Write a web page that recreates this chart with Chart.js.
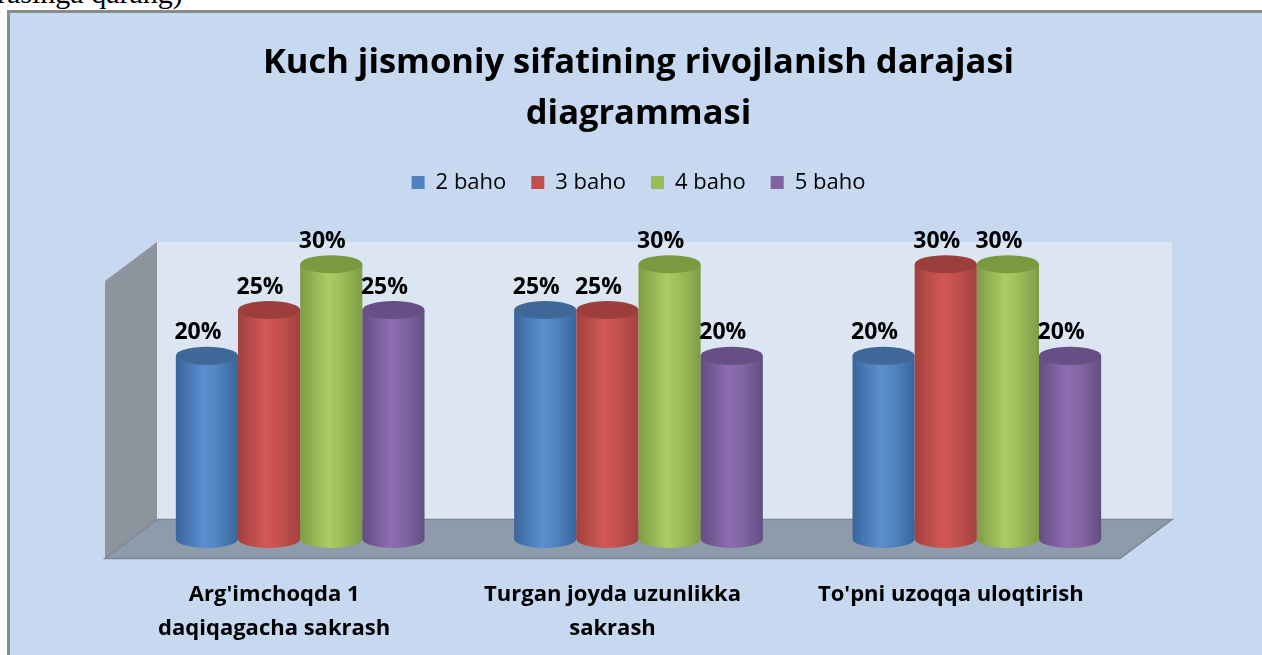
<!DOCTYPE html>
<html>
<head>
<meta charset="utf-8">
<script src="https://cdn.jsdelivr.net/npm/chart.js@4"></script>
<style>
  html, body { margin: 0; padding: 0; background: #fff; overflow: hidden; width: 1262px; height: 655px; }
  #note { position: absolute; left: -3px; top: -22px; font: 30px "Liberation Serif", serif; color: #000; line-height: 30px; white-space: nowrap; }
  #box { position: absolute; left: 7px; top: 10px; width: 1300px; height: 700px; background: #c6d9f1; border-left: 3px solid #8a8a8a; border-top: 3px solid #8a8a8a; }
  #chart { position: absolute; left: 0; top: 0; }
</style>
</head>
<body>
<div id="note">rasinga qarang)</div>
<div id="box"></div>
<canvas id="chart" width="1282" height="655"></canvas>
<script>
const categories = [
  ["Arg'imchoqda 1", 'daqiqagacha sakrash'],
  ['Turgan joyda uzunlikka', 'sakrash'],
  ["To'pni uzoqqa uloqtirish"],
];
const seriesNames = ['2 baho', '3 baho', '4 baho', '5 baho'];
const baho2 = [20, 25, 20];
const baho3 = [25, 25, 30];
const baho4 = [30, 30, 30];
const baho5 = [25, 20, 20];

const baseColors = ['#4f81bd', '#c0504d', '#9bbb59', '#8064a2'];
const lightColors = ['#5b8fd2', '#d25854', '#aacd65', '#8e6db2'];
const darkColors = ['#3a659c', '#a2413e', '#7f9c45', '#634e82'];
const topColors = ['#3f6898', '#9c3e3b', '#7b9a3f', '#654f84'];

const FONT = '"Open Sans", sans-serif';
const DX = 52, DY = 39;     // depth of the 3d box
const RY = 9;               // cylinder ellipse half height
const WALL_TOP = 30.3;

const threeD = {
  id: 'threeD',
  beforeDatasetsDraw(chart) {
    const { ctx, chartArea: ca, scales: { y } } = chart;
    const zero = y.getPixelForValue(0);
    const top = y.getPixelForValue(WALL_TOP);
    ctx.save();
    // back wall
    ctx.fillStyle = '#dce6f2';
    ctx.fillRect(ca.left + DX / 2, top - DY / 2, ca.right - ca.left, zero - top);
    // side wall
    ctx.beginPath();
    ctx.moveTo(ca.left - DX / 2, top + DY / 2);
    ctx.lineTo(ca.left + DX / 2, top - DY / 2);
    ctx.lineTo(ca.left + DX / 2, zero - DY / 2);
    ctx.lineTo(ca.left - DX / 2, zero + DY / 2);
    ctx.closePath();
    ctx.fillStyle = '#8d949d';
    ctx.fill();
    // floor
    ctx.beginPath();
    ctx.moveTo(ca.left - DX / 2, zero + DY / 2);
    ctx.lineTo(ca.left + DX / 2, zero - DY / 2);
    ctx.lineTo(ca.right + DX / 2, zero - DY / 2);
    ctx.lineTo(ca.right - DX / 2, zero + DY / 2);
    ctx.closePath();
    ctx.fillStyle = '#8e9bab';
    ctx.fill();
    ctx.strokeStyle = '#7d8793';
    ctx.lineWidth = 1.5;
    ctx.stroke();
    ctx.restore();
  },
  beforeDatasetDraw() {
    return false;
  },
  afterDatasetsDraw(chart) {
    const { ctx, scales: { x } } = chart;
    ctx.save();
    chart.data.datasets.forEach((ds, di) => {
      chart.getDatasetMeta(di).data.forEach((bar, i) => {
        const p = bar.getProps(['x', 'y', 'base', 'width'], true);
        const rx = p.width / 2;
        const l = p.x - rx, r = p.x + rx;
        const g = ctx.createLinearGradient(l, 0, r, 0);
        g.addColorStop(0, darkColors[di]);
        g.addColorStop(0.45, lightColors[di]);
        g.addColorStop(0.7, baseColors[di]);
        g.addColorStop(1, darkColors[di]);
        ctx.beginPath();
        ctx.moveTo(l, p.y);
        ctx.lineTo(l, p.base);
        ctx.ellipse(p.x, p.base, rx, RY, 0, Math.PI, 0, true);
        ctx.lineTo(r, p.y);
        ctx.closePath();
        ctx.fillStyle = g;
        ctx.fill();
        ctx.beginPath();
        ctx.ellipse(p.x, p.y, rx, RY, 0, 0, Math.PI * 2);
        ctx.fillStyle = topColors[di];
        ctx.fill();
        // value label
        ctx.fillStyle = '#000';
        ctx.font = 'bold 23px ' + FONT;
        ctx.textAlign = 'center';
        ctx.textBaseline = 'middle';
        ctx.fillText(ds.data[i] + '%', p.x - 9, p.y - 23);
      });
    });
    // category labels along the front edge of the floor
    const zero = chart.scales.y.getPixelForValue(0);
    ctx.font = 'bold 22px ' + FONT;
    categories.forEach((lines, i) => {
      const cx = x.getPixelForValue(i) - DX / 2;
      lines.forEach((t, k) => ctx.fillText(t, cx, zero + DY / 2 + 36 + k * 34));
    });
    ctx.restore();
  },
};

new Chart(document.getElementById('chart'), {
  type: 'bar',
  data: {
    labels: categories,
    datasets: [baho2, baho3, baho4, baho5].map((d, i) => ({
      label: seriesNames[i],
      data: d,
      backgroundColor: baseColors[i],
    })),
  },
  options: {
    responsive: false,
    animation: false,
    devicePixelRatio: 1,
    categoryPercentage: 0.735,
    barPercentage: 1,
    layout: { padding: { left: 131, right: 136, top: 0, bottom: 116 } },
    plugins: {
      title: {
        display: true,
        text: ['Kuch jismoniy sifatining rivojlanish darajasi', 'diagrammasi'],
        color: '#000',
        font: { family: FONT, size: 34.5, weight: 'bold', lineHeight: 1.5 },
        padding: { top: 37, bottom: 6 },
      },
      legend: {
        position: 'top',
        labels: {
          color: '#000',
          boxWidth: 13,
          boxHeight: 13,
          padding: 25,
          font: { family: FONT, size: 22 },
        },
      },
      tooltip: { enabled: false },
    },
    scales: {
      x: { display: false },
      y: { display: false, min: 0, max: 36.63 },
    },
  },
  plugins: [threeD],
});
</script>
</body>
</html>
